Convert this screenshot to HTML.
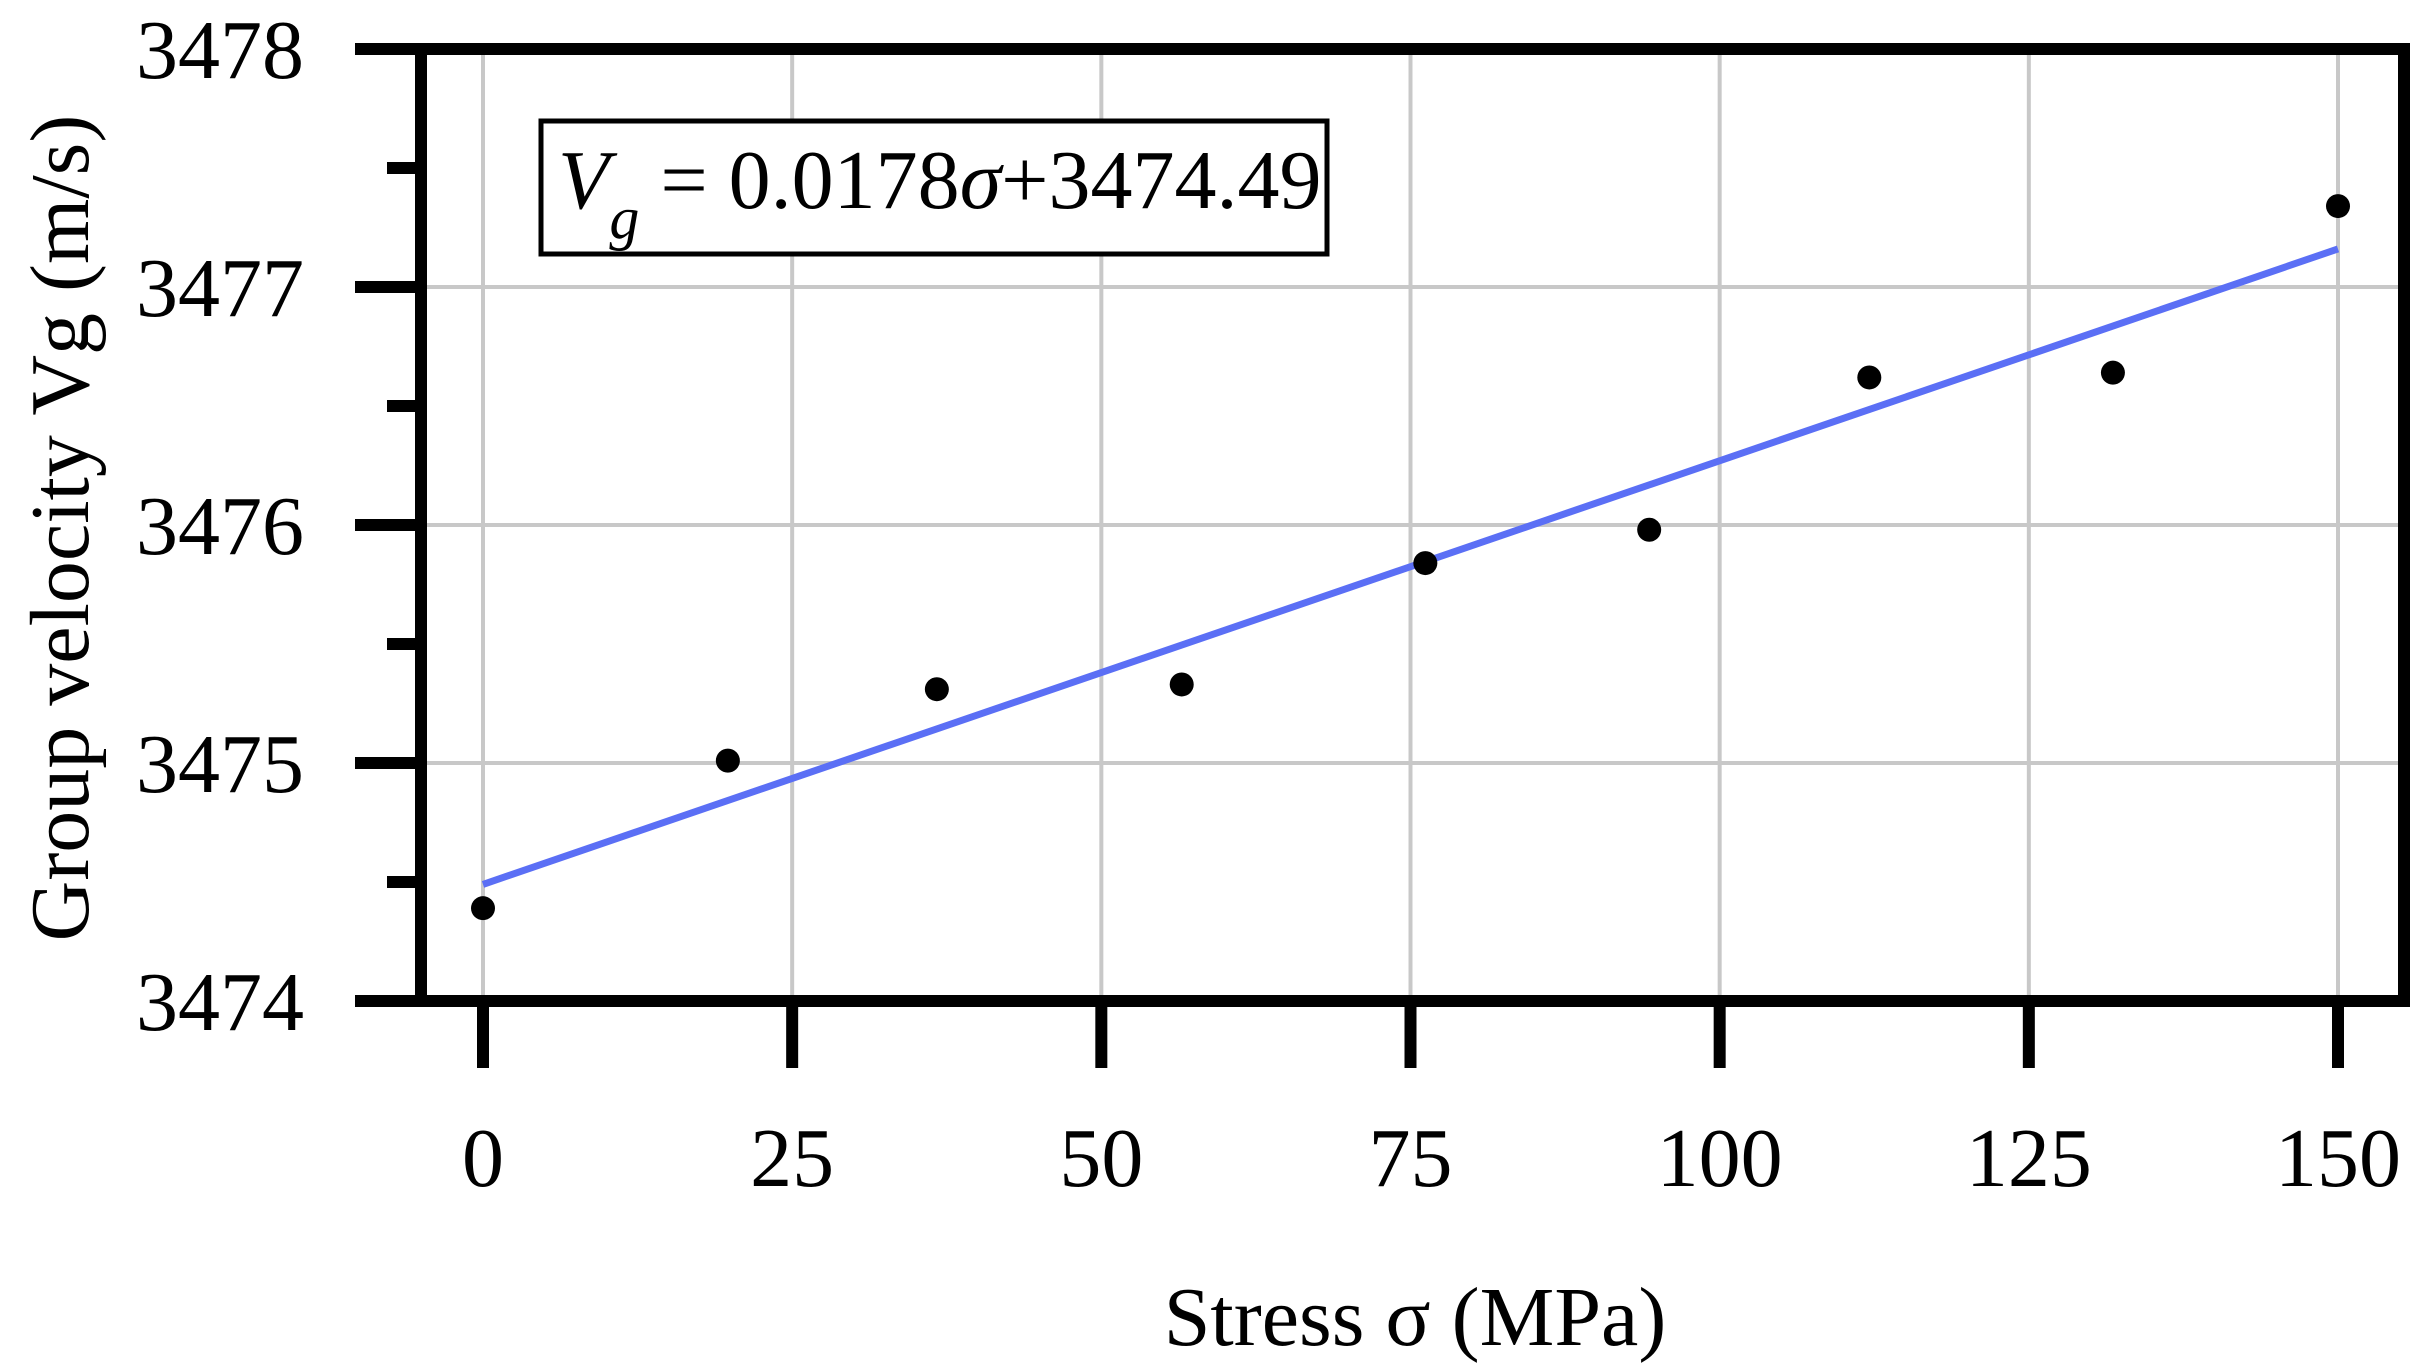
<!DOCTYPE html>
<html><head><meta charset="utf-8"><style>
html,body{margin:0;padding:0;background:#fff}
svg{display:block}
text{font-family:"Liberation Serif",serif;fill:#000}
</style></head><body>
<svg id="chart" width="2427" height="1367" viewBox="0 0 2427 1367" xmlns="http://www.w3.org/2000/svg">
<g id="grid"></g>
<g id="fit"></g>
<g id="points"></g>
<g id="axes"></g>
<g>
<rect x="541" y="121" width="786" height="133" fill="#fff" stroke="#000" stroke-width="5"/>
<text x="558" y="208" font-size="84"><tspan font-style="italic">V</tspan><tspan font-style="italic" font-size="60" dy="30">g</tspan><tspan dy="-30"> = 0.0178</tspan><tspan font-style="italic">σ</tspan><tspan>+3474.49</tspan></text>
</g>
<text x="1415" y="1345" font-size="84" text-anchor="middle">Stress σ (MPa)</text>
<text transform="translate(88,528) rotate(-90)" font-size="84" text-anchor="middle">Group velocity Vg (m/s)</text>
</svg>
<script>
const xValues = [0, 19.8, 36.7, 56.5, 76.2, 94.3, 112.1, 131.8, 150];
const yValues = [3474.39, 3475.01, 3475.31, 3475.33, 3475.84, 3475.98, 3476.62, 3476.64, 3477.34];
const xTicks = [0, 25, 50, 75, 100, 125, 150];
const yTicks = [3474, 3475, 3476, 3477, 3478];
const fitSlope = 0.0178;
const fitIntercept = 3474.49;

const NS = 'http://www.w3.org/2000/svg';
const X0 = 483, X1 = 2338, Y0 = 1001, Y1 = 49;
const sx = v => X0 + (v - 0) / 150 * (X1 - X0);
const sy = v => Y0 - (v - 3474) / 4 * (Y0 - Y1);
function mk(tag, attrs, parent) {
  const e = document.createElementNS(NS, tag);
  for (const k in attrs) e.setAttribute(k, attrs[k]);
  parent.appendChild(e);
  return e;
}
const grid = document.getElementById('grid');
const axes = document.getElementById('axes');
const L = 421, R = 2404;
xTicks.forEach(t => {
  const g = mk('line', {x1: sx(t), x2: sx(t), y1: Y1, y2: Y0, stroke: '#c8c8c8', 'stroke-width': 4}, grid);
  
  
  const tk = mk('line', {x1: sx(t), x2: sx(t), y1: Y0, y2: Y0 + 67, stroke: '#000', 'stroke-width': 12}, axes);
  
  
  const lb = mk('text', {x: sx(t), y: 1186, 'font-size': 84, 'text-anchor': 'middle'}, axes);
  lb.textContent = t;
  
  
});
yTicks.forEach((t, i) => {
  const g = mk('line', {x1: L, x2: R, y1: sy(t), y2: sy(t), stroke: '#c8c8c8', 'stroke-width': 4}, grid);
  
  
  const tk = mk('line', {x1: L - 66, x2: L, y1: sy(t), y2: sy(t), stroke: '#000', 'stroke-width': 12}, axes);
  
  
  if (i < yTicks.length - 1) {
    const mt = mk('line', {x1: L - 34, x2: L, y1: sy(t + 0.5), y2: sy(t + 0.5), stroke: '#000', 'stroke-width': 12}, axes);
    
    
  }
  const lb = mk('text', {x: 304, y: sy(t) + 29, 'font-size': 84, 'text-anchor': 'end'}, axes);
  lb.textContent = t;
  
  
});
const frame = mk('path', {d: `M${L},${Y1} H${R} V${Y0} H${L} Z`, fill: 'none', stroke: '#000', 'stroke-width': 12}, axes);


const fit = document.getElementById('fit');
const fl = mk('line', {x1: sx(0), y1: sy(fitIntercept), x2: sx(150), y2: sy(fitIntercept + fitSlope * 150), stroke: '#5b6ff5', 'stroke-width': 7}, fit);


const pts = document.getElementById('points');
xValues.forEach((x, i) => {
  const c = mk('circle', {cx: sx(x), cy: sy(yValues[i]), r: 12, fill: '#000'}, pts);
  
  
});
</script>
</body></html>
